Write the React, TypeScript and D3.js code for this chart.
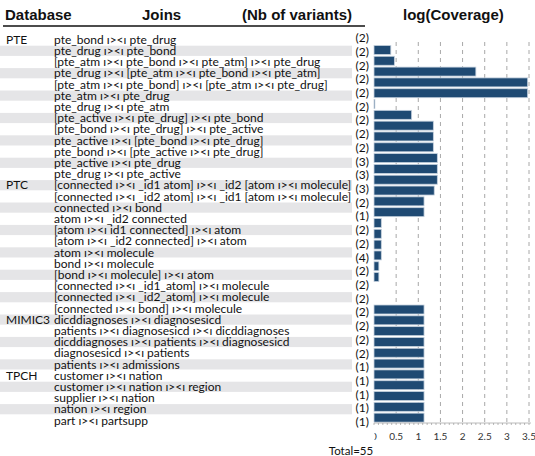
import React from "react";
import * as d3 from "d3";

// Joins, grouped by database (in display order)
const databases = ["PTE", "PTC", "MIMIC3", "TPCH"];
const groupSizes = [13, 12, 5, 5];

const joins = [
  "pte_bond ı><ı pte_drug",
  "pte_drug ı><ı pte_bond",
  "[pte_atm ı><ı pte_bond ı><ı pte_atm] ı><ı pte_drug",
  "pte_drug ı><ı [pte_atm ı><ı pte_bond ı><ı pte_atm]",
  "[pte_atm ı><ı pte_bond] ı><ı [pte_atm ı><ı pte_drug]",
  "pte_atm ı><ı pte_drug",
  "pte_drug ı><ı pte_atm",
  "[pte_active ı><ı pte_drug] ı><ı pte_bond",
  "[pte_bond ı><ı pte_drug] ı><ı pte_active",
  "pte_active ı><ı [pte_bond ı><ı pte_drug]",
  "pte_bond ı><ı [pte_active ı><ı pte_drug]",
  "pte_active ı><ı pte_drug",
  "pte_drug ı><ı pte_active",
  "[connected ı><ı _id1 atom] ı><ı _id2 [atom ı><ı molecule]",
  "[connected ı><ı _id2 atom] ı><ı _id1 [atom ı><ı molecule]",
  "connected ı><ı bond",
  "atom ı><ı _id2 connected",
  "[atom ı><ı id1 connected] ı><ı atom",
  "[atom ı><ı _id2 connected] ı><ı atom",
  "atom ı><ı molecule",
  "bond ı><ı molecule",
  "[bond ı><ı molecule] ı><ı atom",
  "[connected ı><ı _id1_atom] ı><ı molecule",
  "[connected ı><ı _id2_atom] ı><ı molecule",
  "[connected ı><ı bond] ı><ı molecule",
  "dicddiagnoses ı><ı diagnosesicd",
  "patients ı><ı diagnosesicd ı><ı dicddiagnoses",
  "dicddiagnoses ı><ı patients ı><ı diagnosesicd",
  "diagnosesicd ı><ı patients",
  "patients ı><ı admissions",
  "customer ı><ı nation",
  "customer ı><ı nation ı><ı region",
  "supplier ı><ı nation",
  "nation ı><ı region",
  "part ı><ı partsupp",
];

// log(Coverage) per join
const coverage = [
  0.38, 0.46, 2.3, 3.47, 3.47, 0.02, 0.85, 1.34, 1.34, 1.34, 1.43, 1.43, 1.43,
  1.36, 1.13, 1.13, 0.165, 0.165, 0.165, 0.165, 0.11, 0.11, 0, 0, 1.13,
  1.13, 1.13, 1.13, 1.13, 1.13,
  1.13, 1.13, 1.13, 1.13, 1.13,
];

// (Nb of variants) column, as printed
const variants = [
  2, 2, 2, 2, 2, 2, 2, 2, 2, 3, 3, 3, 2, 1, 2, 2, 4, 2, 2, 2, 2, 2, 2, 2, 1, 1,
  1, 1, 1,
];

const xTicks = [0, 0.5, 1, 1.5, 2, 2.5, 3, 3.5];
const total = 55;

const W = 535;
const H = 456;
const textFont = "Lato, 'Noto Sans', sans-serif";
const headFont = "'Liberation Sans', Arial, sans-serif";

export default function App() {
  const rowIdx = d3.range(joins.length);
  const yText = d3.scaleBand<number>().domain(rowIdx).range([34, 426]);
  const yBar = d3
    .scaleBand<number>()
    .domain(rowIdx)
    .range([44.6, 423])
    .paddingInner(0.17)
    .paddingOuter(0.08);
  const yVar = d3
    .scalePoint<number>()
    .domain(d3.range(variants.length))
    .range([38, 422]);
  const x = d3.scaleLinear().domain([0, 3.5]).range([374, 529]);

  const groupStarts = d3.cumsum([0, ...groupSizes.slice(0, -1)]);
  const minor = d3.range(0, 3.51, 0.1);

  return (
    <svg
      width={W}
      height={H}
      style={{ position: "absolute", left: 0, top: 0, background: "#fff" }}
    >
      <defs>
        <clipPath id="tickclip">
          <rect x={374.5} y={425} width={200} height={30} />
        </clipPath>
      </defs>

      {/* header */}
      <g fontFamily={headFont} fontWeight="bold" fontSize={15} fill="#111">
        <text x={5} y={20}>Database</text>
        <text x={142} y={20}>Joins</text>
        <text x={242} y={20}>(Nb of variants)</text>
        <text x={403} y={20}>log(Coverage)</text>
      </g>
      <line x1={3} x2={365} y1={26} y2={26} stroke="#111" strokeWidth={1.5} />

      {/* zebra rows */}
      {rowIdx
        .filter((i) => i % 2 === 1)
        .map((i) => (
          <rect
            key={"b" + i}
            x={0}
            y={yText(i)! + 0.5}
            width={352}
            height={yText.bandwidth() - 1}
            fill="#e5e5e7"
          />
        ))}

      {/* database names, joins, variant counts */}
      <g fontFamily={textFont} fontSize={12} fill="#111">
        {databases.map((d, k) => (
          <text
            key={d}
            x={6}
            y={yText(groupStarts[k])! + yText.bandwidth() / 2}
            dy="0.35em"
          >
            {d}
          </text>
        ))}
        {joins.map((j, i) => (
          <text
            key={"j" + i}
            x={54}
            y={yText(i)! + yText.bandwidth() / 2}
            dy="0.35em"
          >
            {j}
          </text>
        ))}
        {variants.map((v, i) => (
          <text
            key={"v" + i}
            x={369}
            y={yVar(i)!}
            dy="0.35em"
            textAnchor="end"
          >
            ({v})
          </text>
        ))}
      </g>

      {/* grid */}
      {xTicks.slice(1).map((t) => (
        <line
          key={"g" + t}
          x1={x(t)}
          x2={x(t)}
          y1={42}
          y2={423}
          stroke="#a8a8a8"
          strokeDasharray="4,4"
        />
      ))}

      {/* bars */}
      {coverage.map((c, i) =>
        c > 0 ? (
          <rect
            key={"r" + i}
            x={x(0)}
            y={yBar(i)!}
            width={x(c) - x(0)}
            height={yBar.bandwidth()}
            fill="#1f4a73"
            stroke="#c5d1de"
            strokeWidth={0.8}
          />
        ) : null
      )}

      {/* x axis */}
      <line x1={x(0)} x2={x(3.5) + 2} y1={423} y2={423} stroke="#bcbcbc" />
      {minor.map((m) => (
        <line
          key={"m" + m}
          x1={x(m)}
          x2={x(m)}
          y1={423}
          y2={425}
          stroke="#9a9a9a"
          strokeWidth={0.7}
        />
      ))}
      <g
        clipPath="url(#tickclip)"
        fontFamily={textFont}
        fontSize={10}
        fill="#333"
        textAnchor="middle"
      >
        {xTicks.map((t) => (
          <text key={"t" + t} x={x(t)} y={440}>
            {t}
          </text>
        ))}
      </g>

      <text
        x={351}
        y={455}
        fontFamily={textFont}
        fontSize={11.5}
        fill="#111"
        textAnchor="middle"
      >
        Total={total}
      </text>
    </svg>
  );
}
